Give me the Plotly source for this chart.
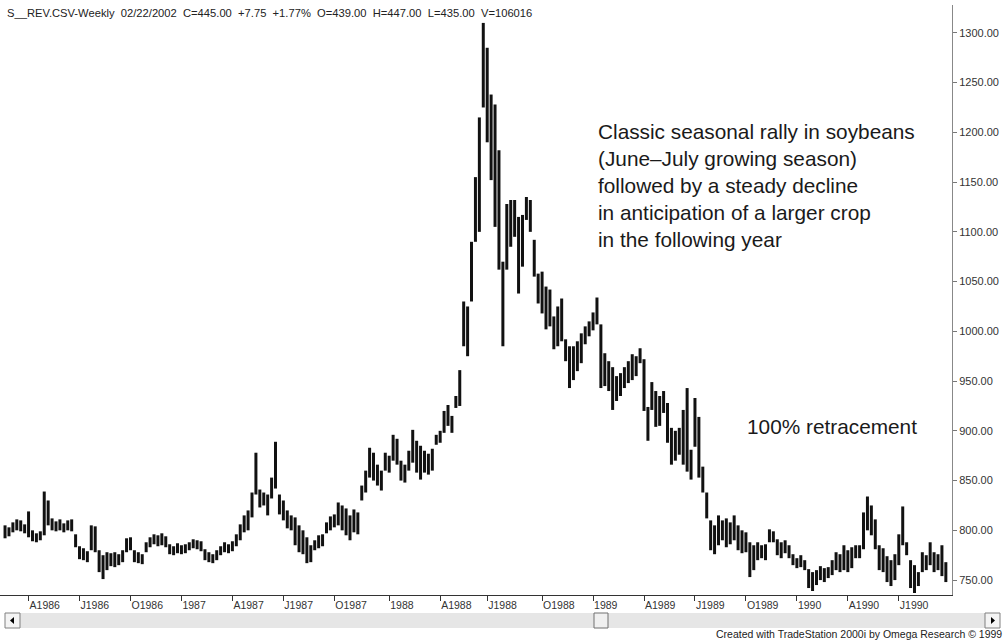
import plotly.graph_objects as go
import pandas as pd

# ---------------- data (weekly soybean bars) ----------------
start_date = "1986-02-21"

highs = [805, 803, 808, 811, 810, 806, 819, 800, 797, 799,
         839, 830, 812, 809, 811, 807, 810, 811, 796, 784,
         782, 779, 805, 804, 780, 775, 778, 777, 778, 776,
         780, 792, 793, 780, 778, 776, 788, 793, 796, 795,
         797, 794, 786, 784, 787, 785, 786, 788, 791, 790,
         789, 781, 778, 776, 780, 784, 788, 786, 789, 796,
         806, 815, 820, 838, 878, 841, 838, 836, 853, 889,
         836, 830, 820, 815, 813, 805, 800, 793, 785, 790,
         795, 796, 808, 814, 816, 828, 825, 822, 815, 821,
         818, 845, 860, 883, 878, 866, 860, 878, 875, 896,
         892, 870, 866, 880, 901, 890, 885, 880, 877, 882,
         896, 900, 920, 926, 915, 935, 961, 1030, 1025, 1090,
         1155, 1215, 1310, 1285, 1238, 1228, 1182, 1070, 1128, 1132,
         1132, 1115, 1117, 1135, 1132, 1092, 1058, 1060, 1045, 1042,
         1015, 1025, 1033, 992, 985, 985, 990, 998, 1005, 1010,
         1019, 1034, 1007, 978, 970, 964, 955, 958, 964, 970,
         977, 975, 983, 972, 924, 949, 940, 935, 940, 928,
         903, 900, 903, 921, 943, 881, 933, 914, 864, 838,
         810, 805, 815, 810, 812, 808, 815, 805, 800, 798,
         788, 785, 788, 785, 786, 801, 799, 791, 788, 790,
         785, 776, 772, 775, 770, 761, 758, 760, 764, 762,
         763, 770, 778, 776, 785, 780, 783, 785, 785, 818,
         834, 825, 811, 785, 782, 774, 770, 776, 796, 824,
         788, 770, 765, 758, 778, 775, 788, 778, 776, 785,
         768]

lows = [792, 794, 798, 800, 799, 797, 793, 789, 788, 790,
        795, 805, 800, 799, 800, 798, 800, 799, 783, 771,
        770, 768, 780, 778, 758, 751, 760, 764, 763, 765,
        768, 778, 780, 768, 767, 766, 778, 783, 786, 784,
        785, 783, 776, 775, 777, 776, 777, 780, 782, 781,
        779, 770, 768, 767, 770, 775, 778, 777, 779, 784,
        790, 798, 800, 813, 836, 823, 825, 815, 832, 842,
        816, 810, 802, 800, 785, 778, 776, 767, 768, 780,
        782, 784, 797, 800, 803, 805, 800, 795, 790, 798,
        796, 830, 838, 853, 850, 845, 840, 860, 858, 870,
        866, 850, 848, 860, 868, 858, 851, 858, 856, 860,
        886, 888, 898, 905, 898, 923, 925, 985, 975, 1030,
        1090, 1100, 1225, 1190, 1152, 1105, 1062, 985, 1062, 1085,
        1095, 1038, 1065, 1112, 1100, 1055, 1028, 1018, 1002, 1005,
        982, 985, 990, 970, 943, 951, 960, 968, 987, 995,
        1001, 1007, 943, 945, 940, 921, 930, 935, 943, 948,
        951, 955, 968, 920, 890, 921, 904, 905, 918, 888,
        866, 870, 876, 866, 859, 851, 884, 853, 838, 812,
        780, 776, 785, 790, 783, 786, 790, 780, 777, 778,
        753, 760, 770, 772, 770, 788, 788, 775, 772, 777,
        772, 765, 762, 763, 760, 742, 739, 745, 750, 748,
        752, 755, 760, 758, 760, 758, 762, 772, 772, 781,
        800, 795, 781, 760, 758, 748, 744, 750, 765, 785,
        775, 742, 737, 744, 758, 760, 765, 758, 760, 754,
        748]

tick_dates = ["1986-04-04", "1986-07-04", "1986-10-03", "1987-01-02",
              "1987-04-03", "1987-07-03", "1987-10-02", "1988-01-08",
              "1988-04-08", "1988-07-01", "1988-10-07", "1989-01-06",
              "1989-04-07", "1989-07-07", "1989-10-06", "1990-01-05",
              "1990-04-06", "1990-07-06"]
tick_labels = ["A1986", "J1986", "O1986", "1987", "A1987", "J1987", "O1987",
               "1988", "A1988", "J1988", "O1988", "1989", "A1989", "J1989",
               "O1989", "1990", "A1990", "J1990"]
price_ticks = [750, 800, 850, 900, 950, 1000, 1050, 1100, 1150, 1200, 1250, 1300]

header_text = ("S__REV.CSV-Weekly\u00a0\u00a002/22/2002\u00a0\u00a0C=445.00\u00a0\u00a0+7.75\u00a0\u00a0+1.77%"
               "\u00a0\u00a0O=439.00\u00a0\u00a0H=447.00\u00a0\u00a0L=435.00\u00a0\u00a0V=106016")
note_text = ("Classic seasonal rally in soybeans<br>(June\u2013July growing season)<br>"
             "followed by a steady decline<br>in anticipation of a larger crop<br>in the following year")
retrace_text = "100% retracement"
footer_text = "Created with TradeStation 2000i by Omega Research \u00a9 1999"

# ---------------- build bars ----------------
dates = pd.date_range(start_date, periods=len(highs), freq="7D").strftime("%Y-%m-%d").tolist()
xs, ys = [], []
for d, h, l in zip(dates, highs, lows):
    xs += [d, d, None]
    ys += [l, h, None]

FONT = "Liberation Sans, Arial, sans-serif"

fig = go.Figure(go.Scatter(x=xs, y=ys, mode="lines",
                           line=dict(color="#111111", width=3),
                           hoverinfo="skip", showlegend=False))

# plot area geometry in pixels (for paper-coordinate placement)
W, H = 1006, 642
ML, MR, MT, MB = 0, 54, 5, 47
PW, PH = W - ML - MR, H - MT - MB


def px(xp):
    return (xp - ML) / PW


def py(yp):
    return (H - MB - yp) / PH


fig.update_layout(
    width=W, height=H, autosize=False,
    margin=dict(l=ML, r=MR, t=MT, b=MB, pad=0),
    paper_bgcolor="white", plot_bgcolor="white",
    font=dict(family=FONT, color="#222"),
    xaxis=dict(type="date", range=["1986-02-12", "1990-10-09"],
               tickvals=tick_dates, ticktext=tick_labels,
               ticks="outside", ticklen=5, tickcolor="#333",
               ticklabelposition="outside right",
               showline=True, linecolor="#333", linewidth=1,
               showgrid=False, zeroline=False,
               tickfont=dict(size=10.5, color="#333", family=FONT)),
    yaxis=dict(side="right", range=[735, 1328], tickvals=price_ticks,
               tickformat=".2f", ticks="outside", ticklen=4, tickcolor="#777",
               showline=True, linecolor="#888", linewidth=1,
               showgrid=False, zeroline=False,
               tickfont=dict(size=11, color="#333", family=FONT)),
)

fig.add_annotation(x=px(5), y=py(13), xref="paper", yref="paper", text=header_text,
                   showarrow=False, xanchor="left", yanchor="middle",
                   font=dict(size=11.2, color="#222", family=FONT))
fig.add_annotation(x=px(596), y=py(185.5), xref="paper", yref="paper", text=note_text,
                   showarrow=False, xanchor="left", yanchor="middle", align="left",
                   font=dict(size=20.8, color="#1a1a1a", family=FONT))
fig.add_annotation(x=px(745), y=py(426), xref="paper", yref="paper", text=retrace_text,
                   showarrow=False, xanchor="left", yanchor="middle", align="left",
                   font=dict(size=20.8, color="#1a1a1a", family=FONT))
fig.add_annotation(x=px(1004), y=py(634), xref="paper", yref="paper", text=footer_text,
                   showarrow=False, xanchor="right", yanchor="middle",
                   font=dict(size=10.5, color="#222", family=FONT))

# scrollbar (decoration)
shapes = [
    dict(type="rect", xref="paper", yref="paper", x0=px(5), x1=px(1000), y0=py(628), y1=py(613),
         fillcolor="#e6e6e6", line=dict(width=0)),
    dict(type="rect", xref="paper", yref="paper", x0=px(5), x1=px(20), y0=py(628), y1=py(613),
         fillcolor="#f4f4f4", line=dict(color="#808080", width=1)),
    dict(type="rect", xref="paper", yref="paper", x0=px(985), x1=px(1000), y0=py(628), y1=py(613),
         fillcolor="#f4f4f4", line=dict(color="#808080", width=1)),
    dict(type="rect", xref="paper", yref="paper", x0=px(594), x1=px(608), y0=py(628), y1=py(613),
         fillcolor="#f0f0f0", line=dict(color="#707070", width=1)),
    dict(type="path", xref="paper", yref="paper",
         path=f"M {px(10)} {py(620.5)} L {px(14)} {py(617)} L {px(14)} {py(624)} Z",
         fillcolor="black", line=dict(width=0)),
    dict(type="path", xref="paper", yref="paper",
         path=f"M {px(995)} {py(620.5)} L {px(991)} {py(617)} L {px(991)} {py(624)} Z",
         fillcolor="black", line=dict(width=0)),
]
fig.update_layout(shapes=shapes)

fig.write_html("out.html", config={"displayModeBar": False},
               post_script="document.body.style.margin='0';document.body.style.padding='0';")
